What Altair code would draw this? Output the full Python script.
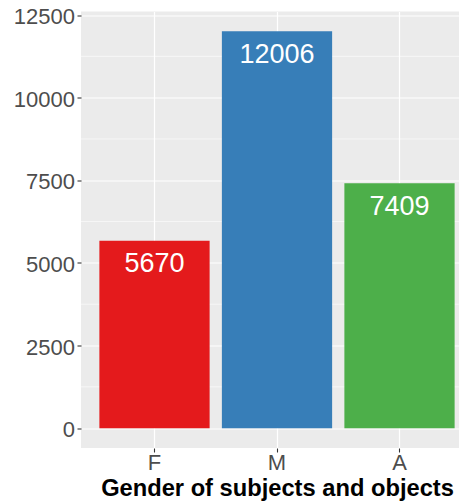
import altair as alt
import pandas as pd

genders = ["F", "M", "A"]
counts = [5670, 12006, 7409]
bar_colors = ["#E41A1C", "#377EB8", "#4DAF4A"]
major_ticks = [0, 2500, 5000, 7500, 10000, 12500]
minor_ticks = [1250, 3750, 6250, 8750, 11250]

df = pd.DataFrame({"gender": genders, "count": counts})
minor_df = pd.DataFrame({"v": minor_ticks})

yscale = alt.Scale(domain=[-600.3, 12606.3], nice=False, zero=False)
xscale = alt.Scale(domain=genders, paddingInner=0.1, paddingOuter=0.15)

minor = alt.Chart(minor_df).mark_rule(color="white", strokeWidth=0.6).encode(
    y=alt.Y("v:Q", scale=yscale)
)

bars = alt.Chart(df).mark_bar().encode(
    x=alt.X("gender:N", scale=xscale, sort=genders,
            axis=alt.Axis(title="Gender of subjects and objects", bandPosition=0.5,
                          labelAngle=0, titleX=196)),
    y=alt.Y("count:Q", scale=yscale,
            axis=alt.Axis(title=None, values=major_ticks, format="d")),
    y2=alt.datum(0),
    color=alt.Color("gender:N", scale=alt.Scale(domain=genders, range=bar_colors), legend=None),
)

labels = alt.Chart(df).mark_text(
    color="white", fontSize=27, baseline="alphabetic", dy=31.5, font="Liberation Sans"
).encode(
    x=alt.X("gender:N", scale=xscale, sort=genders),
    y=alt.Y("count:Q", scale=yscale),
    text=alt.Text("count:Q", format="d"),
)

chart = alt.layer(minor, bars, labels).properties(
    width=392, height=436.5,
    autosize=alt.AutoSizeParams(type="none"),
    padding={"left": 73, "top": 3.5, "right": -14, "bottom": 53},
    background="white",
).configure_view(
    fill="#EBEBEB", stroke=None
).configure_axis(
    grid=True, gridColor="white", gridWidth=1.2, domain=False,
    tickColor="#333333", tickSize=4, tickWidth=1.1,
    labelFont="Liberation Sans", labelFontSize=22, labelColor="#4D4D4D",
    titleFont="Liberation Sans", titleFontSize=23.7, titleFontWeight="bold", titleColor="black",
).configure_axisX(
    labelPadding=0, titlePadding=3
).configure_axisY(
    labelPadding=2.5, labelOffset=1.5
)

chart.save("out.html", embed_options={"renderer": "svg", "actions": False})
